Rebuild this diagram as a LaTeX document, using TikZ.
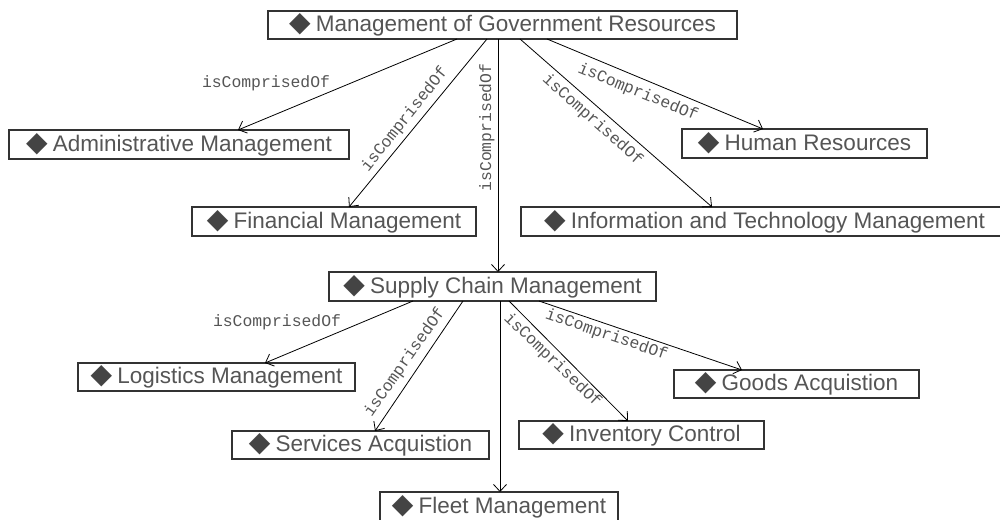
\documentclass[tikz,border=0pt]{standalone}
\usepackage{fontspec}
\setmainfont{Liberation Sans}
\newfontfamily\monof{Liberation Mono}
\newfontfamily\symf{DejaVu Sans}
\usetikzlibrary{arrows.meta}
\definecolor{boxtext}{HTML}{555555}
\definecolor{diam}{HTML}{444444}
\definecolor{lbltext}{HTML}{555555}
\newcommand{\dm}{{\color{diam}\symf\fontsize{28}{28}\selectfont ◆}\kern-1pt}
\tikzset{
  box/.style={draw=black!80, line width=1.1pt, fill=white, outer sep=0pt, inner sep=0pt,
    text=boxtext, font=\fontsize{22.5}{27}\selectfont, anchor=center},
  lbl/.style={text=lbltext, inner sep=0pt, font=\monof\fontsize{16.4}{18}\selectfont},
  conn/.style={line width=0.8pt, -{Straight Barb[length=7pt,width=13pt,line width=0.8pt]}}
}
\begin{document}
\begin{tikzpicture}[x=1pt,y=-1pt]
\useasboundingbox (0,0) rectangle (1000,519);
% boxes
\node[box, minimum width=469pt, minimum height=28pt] (top) at (502.5,25) {\dm\ Management of Government Resources};
\node[box, minimum width=340pt, minimum height=29pt] (adm) at (179,144.5) {\dm\ Administrative Management};
\node[box, minimum width=284pt, minimum height=29pt] (fin) at (334,221.5) {\dm\ Financial Management};
\node[box, minimum width=245pt, minimum height=29pt] (hr) at (804.5,143.5) {\dm\ Human Resources};
\node[box, minimum width=487pt, minimum height=29pt] (info) at (764.5,221.5) {\dm\ Information and Technology Management};
\node[box, minimum width=327pt, minimum height=29pt] (sup) at (492.5,286.5) {\dm\ Supply Chain Management};
\node[box, minimum width=277pt, minimum height=28pt] (log) at (216.5,377) {\dm\ Logistics Management};
\node[box, minimum width=257pt, minimum height=28pt] (serv) at (360.5,445) {\dm\ Services Acquistion};
\node[box, minimum width=238pt, minimum height=29pt] (fleet) at (499,506.5) {\dm\ Fleet Management};
\node[box, minimum width=245pt, minimum height=28pt] (goods) at (796.5,384) {\dm\ Goods Acquistion};
\node[box, minimum width=245pt, minimum height=28pt] (inv) at (641.5,435) {\dm\ Inventory Control};
% connectors from top
\draw[conn] ([xshift=-45.5pt]top.south) -- ([xshift=59pt]adm.north);
\draw[conn] ([xshift=-15.5pt]top.south) -- ([xshift=15pt]fin.north);
\draw[conn] ([xshift=-4.5pt]top.south) -- ([xshift=5.5pt]sup.north);
\draw[conn] ([xshift=17.5pt]top.south) -- ([xshift=-52.5pt]info.north);
\draw[conn] ([xshift=44.5pt]top.south) -- ([xshift=-41.5pt]hr.north);
% connectors from supply chain
\draw[conn] ([xshift=-79.5pt]sup.south) -- ([xshift=48.5pt]log.north);
\draw[conn] ([xshift=-29.5pt]sup.south) -- ([xshift=14.5pt]serv.north);
\draw[conn] ([xshift=7.5pt]sup.south) -- ([xshift=1pt]fleet.north);
\draw[conn] ([xshift=16.5pt]sup.south) -- ([xshift=-13.5pt]inv.north);
\draw[conn] ([xshift=46.5pt]sup.south) -- ([xshift=-54.5pt]goods.north);
% labels
\node[lbl] (l1) at (266,83) {isComprisedOf};
\node[lbl, rotate=51.3] (l2) at (405,119.5) {isComprisedOf};
\node[lbl, rotate=90] (l3) at (487,127.5) {isComprisedOf};
\node[lbl, rotate=-41.5] (l4) at (592.5,120) {isComprisedOf};
\node[lbl, rotate=-22.2] (l5) at (638,92.5) {isComprisedOf};
\node[lbl] (l6) at (277,322) {isComprisedOf};
\node[lbl, rotate=54.7] (l7) at (405,362.5) {isComprisedOf};
\node[lbl, rotate=-43.7] (l8) at (552.5,360.5) {isComprisedOf};
\node[lbl, rotate=-18.9] (l9) at (606.5,335) {isComprisedOf};
\end{tikzpicture}
\end{document}
